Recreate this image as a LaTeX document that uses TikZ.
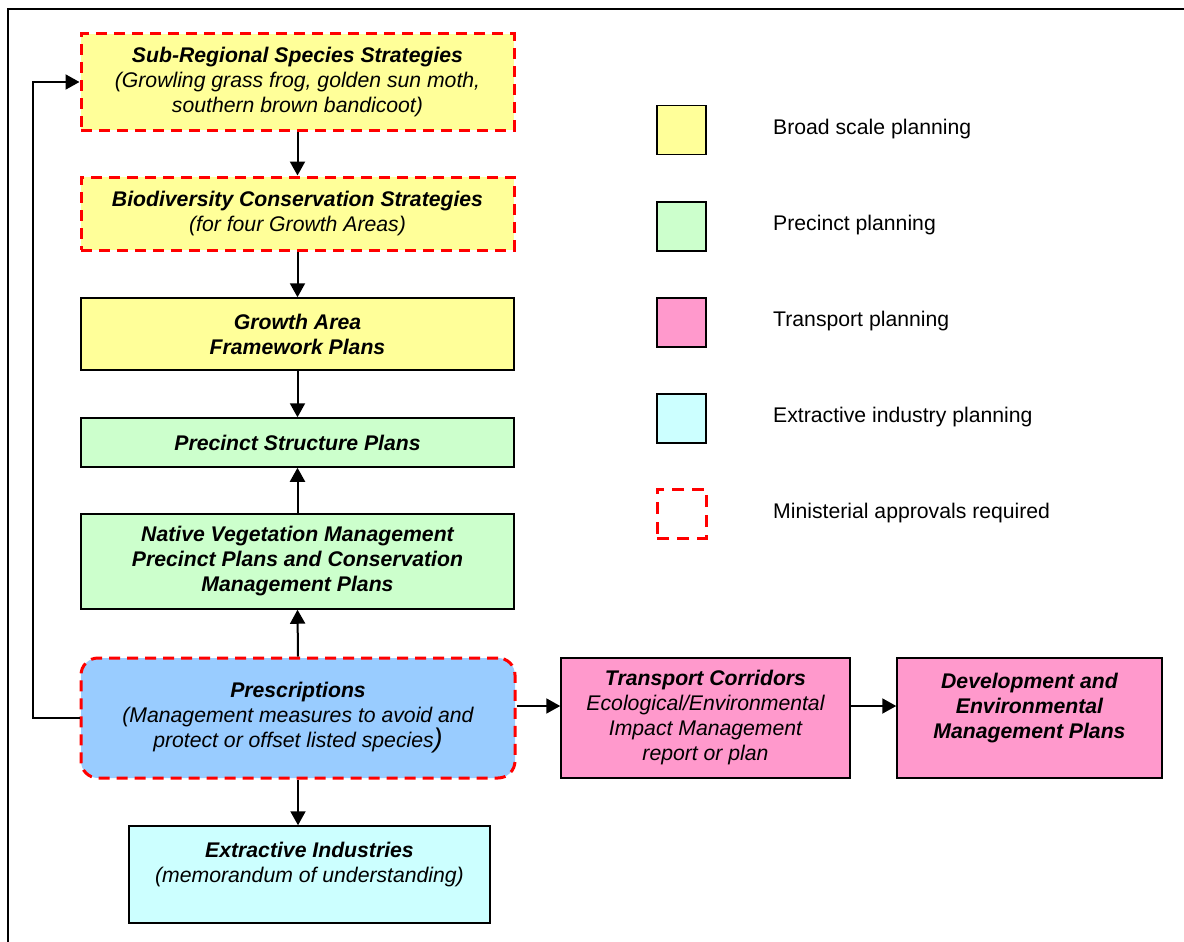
\documentclass[tikz,border=0pt]{standalone}
\usepackage{fontspec}
\setmainfont{Liberation Sans}
\usetikzlibrary{arrows.meta}
\definecolor{cyel}{HTML}{FFFF99}
\definecolor{cgrn}{HTML}{CCFFCC}
\definecolor{cpnk}{HTML}{FF99CC}
\definecolor{ccyn}{HTML}{CCFFFF}
\definecolor{cblu}{HTML}{99CCFF}
\definecolor{cred}{HTML}{FF0000}
\begin{document}
\begin{tikzpicture}[x=1pt,y=-1pt,
  box/.style={draw=black, line width=1.5pt, inner sep=0pt, align=center,
    font=\fontsize{21.2}{25}\selectfont\itshape},
  redbox/.style={draw=cred, line width=3pt, dash pattern=on 11pt off 7pt},
  arr/.style={line width=2pt, -{Triangle[length=14pt,width=15pt]}},
  legsq/.style={draw=black, line width=1.5pt, minimum size=49pt, inner sep=0pt},
  legtxt/.style={anchor=west, inner sep=0pt, font=\fontsize{21.2}{25}\selectfont},
  frameline/.style={line width=2pt}
  ]
\useasboundingbox (0,0) rectangle (1184,942);
% frame
\coordinate (ftr) at (1184,9);
\coordinate (ftl) at (8,9);
\coordinate (fbl) at (8,942);
\draw[frameline] (ftr) -- (ftl) -- (fbl);

% boxes
\node[box, fill=cyel, redbox, minimum width=433pt, minimum height=96pt] (b1) at (297.5,82)
  {\textbf{Sub-Regional Species Strategies}\\(Growling grass frog, golden sun moth,\\southern brown bandicoot)};
\node[box, fill=cyel, redbox, minimum width=433pt, minimum height=73pt] (b2) at (297.5,213.5)
  {\textbf{Biodiversity Conservation Strategies}\\(for four Growth Areas)};
\node[box, fill=cyel, minimum width=433pt, minimum height=72pt] (b3) at (297.5,334)
  {\textbf{Growth Area}\\\textbf{Framework Plans}};
\node[box, fill=cgrn, minimum width=433pt, minimum height=49pt] (b4) at (297.5,442.5)
  {\textbf{Precinct Structure Plans}};
\node[box, fill=cgrn, minimum width=433pt, minimum height=95pt] (b5) at (297.5,561.5)
  {\textbf{Native Vegetation Management}\\\textbf{Precinct Plans and Conservation}\\\textbf{Management Plans}};
\node[box, fill=cblu, redbox, rounded corners=17pt, minimum width=434pt, minimum height=120pt] (b6) at (298,718)
  {\textbf{Prescriptions}\\(Management measures to avoid and\\protect or offset listed species{\fontsize{27}{25}\selectfont)}};
\node[box, fill=ccyn, minimum width=361pt, minimum height=97pt] (b7) at (309.5,874.5)
  {\textbf{Extractive Industries}\\(memorandum of understanding)\\\mbox{}};
\node[box, fill=cpnk, minimum width=289pt, minimum height=120pt] (b8) at (705.5,718)
  {\textbf{Transport Corridors}\\Ecological/Environmental\\Impact Management\\report or plan};
\node[box, fill=cpnk, minimum width=265pt, minimum height=120pt] (b9) at (1029.5,718)
  {\textbf{Development and}\\\textbf{Environmental}\\\textbf{Management Plans}\\\mbox{}};

% connectors
\draw[arr] (b1.south) -- (b2.north);
\draw[arr] (b2.south) -- (b3.north);
\draw[arr] (b3.south) -- (b4.north);
\draw[arr] (b5.north) -- (b4.south);
\draw[arr] (b6.north) -- (b5.south);
\draw[arr] (b6.south) -- (b6.south |- b7.north);
\draw[arr] ([yshift=12pt]b6.east) -- ([yshift=12pt]b8.west);
\draw[arr] ([yshift=12pt]b8.east) -- ([yshift=12pt]b9.west);
\draw[arr] (b6.west) -- ++(-47,0) |- (b1.west);

% legend
\node[legsq, fill=cyel] (l1) at (681.5,130) {};
\node[legsq, fill=cgrn] (l2) at (681.5,226.5) {};
\node[legsq, fill=cpnk] (l3) at (681.5,322.5) {};
\node[legsq, fill=ccyn] (l4) at (681.5,418.5) {};
\node[legsq, draw=cred, line width=3pt, dash pattern=on 12pt off 8pt] (l5) at (681.5,513.5) {};
\node[legtxt] (t1) at (773,129) {Broad scale planning};
\node[legtxt] (t2) at (773,225) {Precinct planning};
\node[legtxt] (t3) at (773,321) {Transport planning};
\node[legtxt] (t4) at (773,417) {Extractive industry planning};
\node[legtxt] (t5) at (773,513) {Ministerial approvals required};
\end{tikzpicture}
\end{document}
